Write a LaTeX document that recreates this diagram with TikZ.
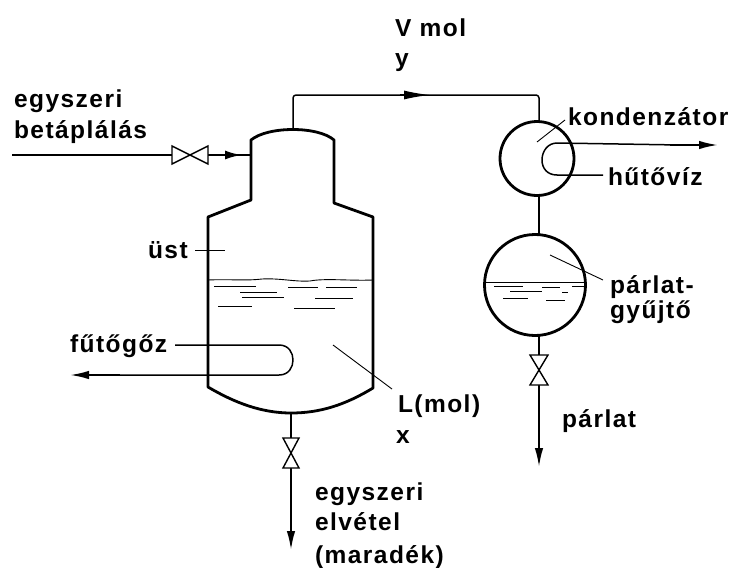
\documentclass[tikz,border=0pt]{standalone}
\usepackage{fontspec}
\setmainfont[LetterSpace=6]{Liberation Sans}
\usetikzlibrary{arrows.meta}
\tikzset{
  wall/.style={line width=2.8pt,line join=round},
  pipe/.style={line width=1.5pt,line join=round},
  leader/.style={line width=0.9pt},
  wave/.style={line width=0.9pt},
  flow/.style={line width=2pt,-{Latex[length=19pt,width=8.5pt]}},
  lbl/.style={anchor=base west,inner sep=0pt,outer sep=0pt,font=\fontsize{24.5}{28}\selectfont\bfseries},
  valvebody/.style={draw,line width=1.4pt,fill=white,line join=miter},
}
\begin{document}
\begin{tikzpicture}[x=1pt,y=-1pt]
\useasboundingbox (0,0) rectangle (737,568);
% key points
\coordinate (domeTop) at (293,129);
\coordinate (topL) at (293,95);
\coordinate (topR) at (539,95);
\coordinate (condTop) at (539,122);
\coordinate (condBot) at (539,195);
\coordinate (collTop) at (539,236);
\coordinate (collBot) at (539,334);
\coordinate (vdTop) at (539,355);
\coordinate (vdBot) at (539,385);
\coordinate (distEnd) at (539,467);
\coordinate (vmTop) at (291,438);
\coordinate (vmBot) at (291,468);
\coordinate (botDome) at (291,413);
\coordinate (resEnd) at (291,550);
\coordinate (feedStart) at (12,155);
\coordinate (vfL) at (172,155);
\coordinate (vfR) at (208,155);
\coordinate (neckL) at (251,155);
% kettle
\draw[wall] (251,200) -- (251,140) .. controls (268,126) and (318,126) .. (334,140) -- (334,203)
  -- (373,217) -- (373,388) .. controls (345,405) and (320,413) .. (291,413)
  .. controls (262,413) and (235,403) .. (208,387) -- (208,217) -- cycle;
% liquid
\draw[wave] (208,280) .. controls (230,279) and (245,281) .. (262,279) .. controls (280,278) and (295,282) .. (310,281)
  .. controls (325,278) and (350,281) .. (373,280);
\foreach \a/\b/\c in {214/256/286, 240/277/292, 288/318/287, 326/357/287, 242/284/297, 315/353/298, 218/252/306, 294/335/308}
  \draw[wave] (\a,\c) -- (\b,\c);
% coil
\draw[pipe] (175,345) -- (279,345) .. controls (289,345) and (293,353) .. (293,360)
  .. controls (293,367) and (289,375) .. (279,375) -- (100,375);
\draw[flow] (120,375) -- (70,375);
% feed
\draw[pipe] (feedStart) -- (vfL);
\draw[line width=2.4pt] (vfR) -- (neckL);
\draw[line width=2.4pt,-{Latex[length=17pt,width=9pt]}] (vfR) -- (242,155);
\draw[valvebody] (172,146) -- (172,164) -- (208,146) -- (208,164) -- cycle;
% overhead
\draw[pipe,rounded corners=3pt] (domeTop) -- (topL) -- (topR) -- (condTop);
\draw[line width=1.5pt,-{Latex[length=26pt,width=9pt]}] (400,95) -- (430,95);
% condenser
\draw[wall] (537,158.5) circle[radius=37];
\draw[pipe] (condBot) -- (collTop);
\draw[pipe] (603,175) -- (557,175) .. controls (547,175) and (542,168) .. (542,160)
  .. controls (542,151) and (548,143) .. (557,143) -- (680,145);
\draw[flow] (670,145) -- (718,145);
% collector
\draw[wall] (535,285) circle[radius=50.5];
\draw[line width=1pt] (485,282) -- (585,282);
\foreach \a/\b/\c in {494/523/286, 542/560/287, 572/585/286, 510/542/291, 562/568/292, 503/528/298, 546/565/300}
  \draw[wave] (\a,\c) -- (\b,\c);
% outlet lines and valves
\draw[pipe] (collBot) -- (vdTop);
\draw[flow] (vdBot) -- (distEnd);
\draw[valvebody] (530,355) -- (548,355) -- (530,385) -- (548,385) -- cycle;
\draw[pipe] (botDome) -- (vmTop);
\draw[flow] (vmBot) -- (resEnd);
\draw[valvebody] (283,438) -- (299,438) -- (283,468) -- (299,468) -- cycle;
% leaders
\coordinate (l1a) at (195,250); \coordinate (l1b) at (225,250);
\draw[leader] (l1a) -- (l1b);
\coordinate (l2a) at (333,345); \coordinate (l2b) at (392,389);
\draw[leader] (l2a) -- (l2b);
\coordinate (l3a) at (537,142); \coordinate (l3b) at (565,120);
\draw[leader] (l3a) -- (l3b);
\coordinate (l4a) at (550,255); \coordinate (l4b) at (603,280);
\draw[leader] (l4a) -- (l4b);
% labels
\node[lbl] (t1) at (395,36) {V mol};
\node[lbl] (t2) at (395,66) {y};
\node[lbl] (t3) at (14,107) {egyszeri};
\node[lbl] (t4) at (14,138) {betáplálás};
\node[lbl] (t5) at (148,258) {üst};
\node[lbl] (t6) at (70,352) {fűtőgőz};
\node[lbl] (t7) at (568,125) {kondenzátor};
\node[lbl] (t8) at (608,185) {hűtővíz};
\node[lbl] (t9) at (610,293) {párlat-};
\node[lbl] (t10) at (610,318) {gyűjtő};
\node[lbl] (t11) at (562,427) {párlat};
\node[lbl] (t12) at (398,412) {L(mol)};
\node[lbl] (t13) at (396,443) {x};
\node[lbl] (t14) at (315,500) {egyszeri};
\node[lbl] (t15) at (315,530) {elvétel};
\node[lbl] (t16) at (315,563) {(maradék)};
\end{tikzpicture}
\end{document}
